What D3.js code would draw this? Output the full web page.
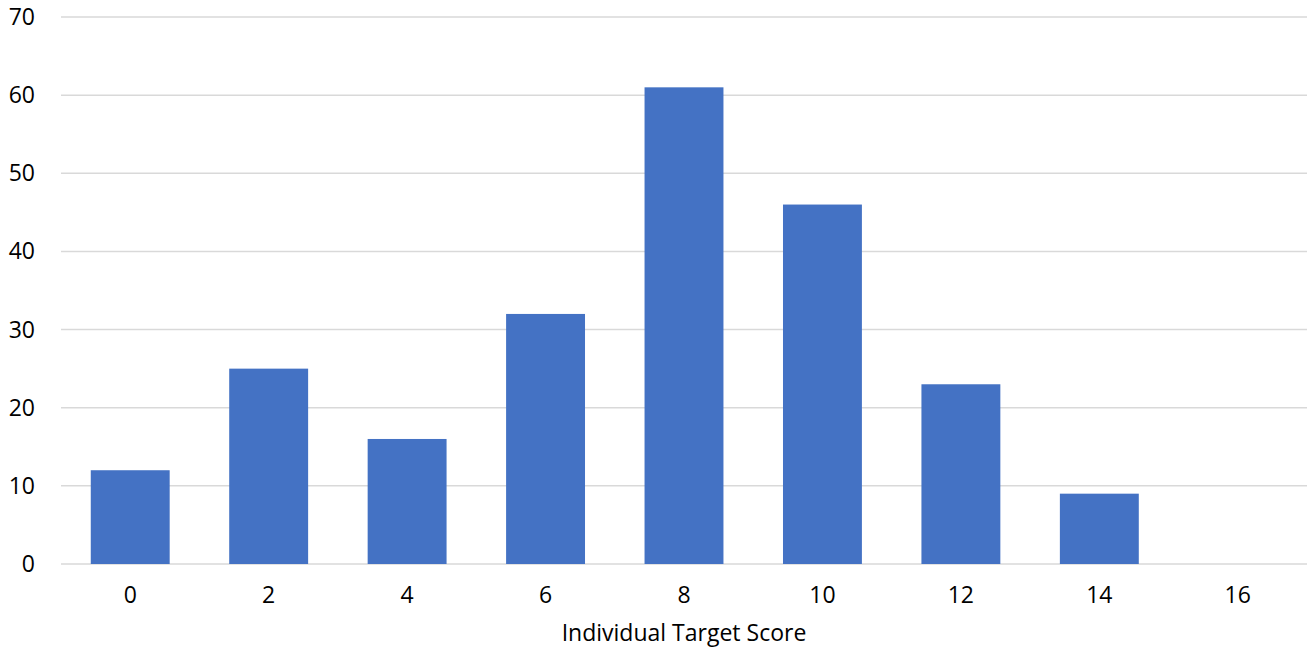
<!DOCTYPE html>
<html><head><meta charset="utf-8">
<script src="https://cdn.jsdelivr.net/npm/d3@7"></script>
<style>body{margin:0;background:#fff}svg{display:block}</style>
</head><body>
<svg id="c" width="1309" height="649"></svg>
<script>
const categories = ["0","2","4","6","8","10","12","14","16"];
const values = [12, 25, 16, 32, 61, 46, 23, 9, 0];
const yTicks = [0,10,20,30,40,50,60,70];
const xTitle = "Individual Target Score";

const svg = d3.select("#c");
const font = "'Open Sans', 'Noto Sans', sans-serif";
const fs = 23;
const x = d3.scaleBand().domain(categories).range([61, 1307]).paddingInner(0.43).paddingOuter(0.215);
const y = d3.scaleLinear().domain([0, 70]).range([564, 17]);

svg.append("g").selectAll("line").data(yTicks).join("line")
  .attr("x1", 61).attr("x2", 1307)
  .attr("y1", d => y(d)).attr("y2", d => y(d))
  .attr("stroke", "#d9d9d9").attr("stroke-width", 1.5);

svg.append("g").selectAll("rect").data(values).join("rect")
  .attr("x", (d,i) => x(categories[i])).attr("width", x.bandwidth())
  .attr("y", d => y(d)).attr("height", d => y(0) - y(d))
  .attr("fill", "#4472c4");

svg.append("g").selectAll("text").data(yTicks).join("text")
  .attr("x", 35).attr("y", d => y(d)).attr("dy", "0.35em")
  .attr("text-anchor", "end").attr("font-family", font).attr("font-size", fs)
  .attr("fill", "#000").text(d => d);

svg.append("g").selectAll("text").data(categories).join("text")
  .attr("x", d => x(d) + x.bandwidth()/2).attr("y", 603)
  .attr("text-anchor", "middle").attr("font-family", font).attr("font-size", fs)
  .attr("fill", "#000").text(d => d);

svg.append("text").attr("x", 684).attr("y", 641).attr("text-anchor", "middle")
  .attr("font-family", font).attr("font-size", fs).attr("fill", "#000").text(xTitle);
</script>
</body></html>
